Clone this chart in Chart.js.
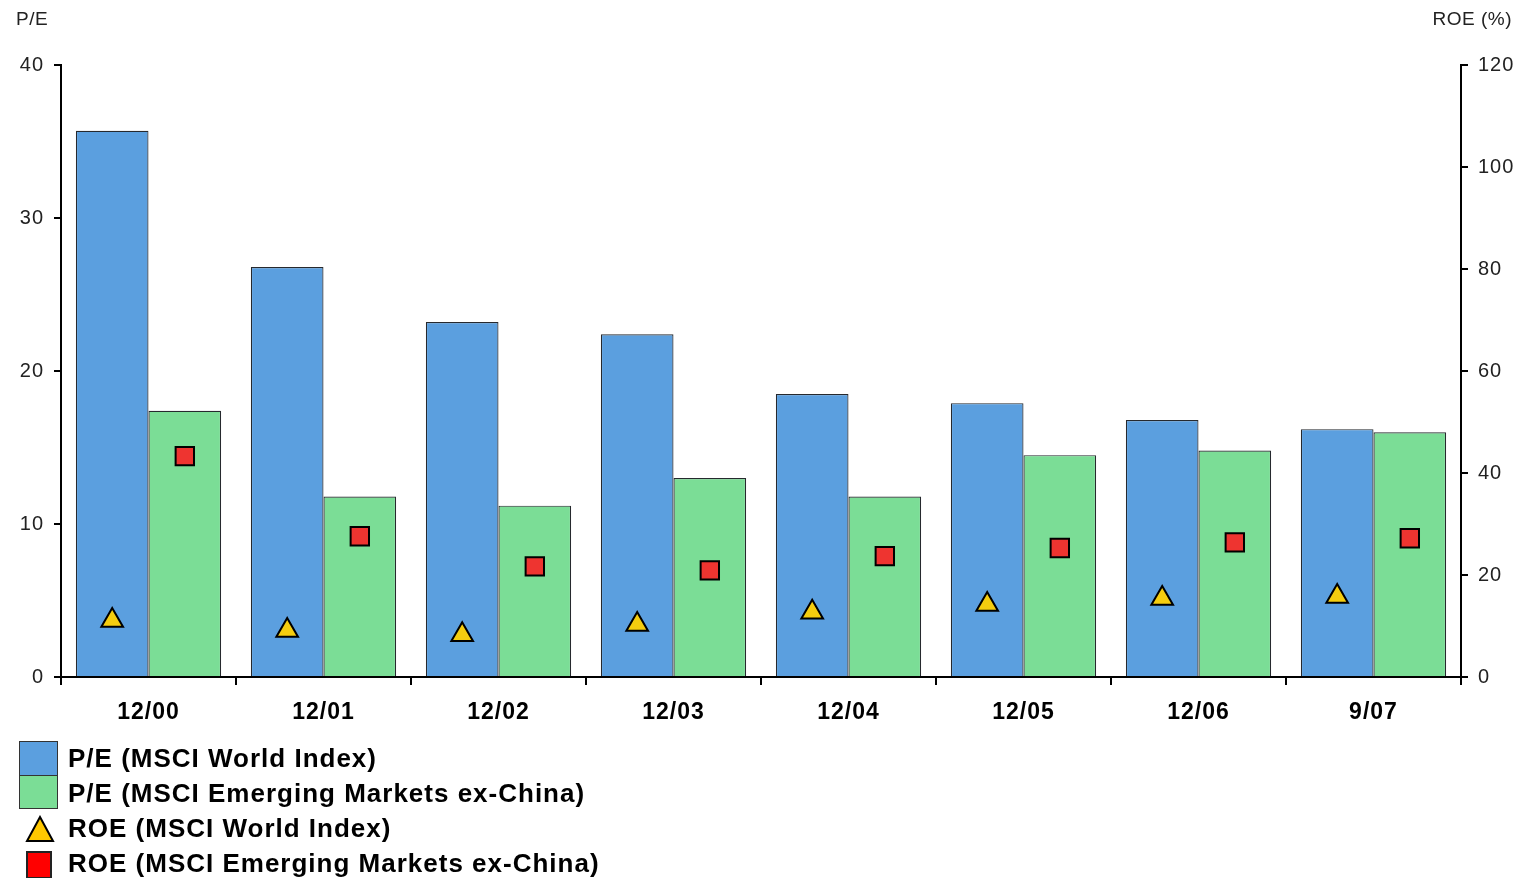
<!DOCTYPE html>
<html>
<head>
<meta charset="utf-8">
<script src="https://cdn.jsdelivr.net/npm/chart.js@4/dist/chart.umd.min.js"></script>
<style>
  html, body { margin: 0; padding: 0; background: #fff; }
  #wrap { position: relative; width: 1532px; height: 878px; font-family: "Liberation Sans", Arial, sans-serif; }
  #roe { position: absolute; left: 0; top: 0; }
  .axis-title { position: absolute; top: 8px; font-size: 19px; color: #222; letter-spacing: 0.5px; }
  #legend { position: absolute; left: 0; top: 741px; }
  .row { position: relative; height: 35px; }
  .row span { position: absolute; left: 68px; top: 0; line-height: 34px; font-size: 26px; font-weight: bold; letter-spacing: 1px; color: #000; white-space: nowrap; }
  .row .sw { position: absolute; }
</style>
</head>
<body>
<div id="wrap">
  <canvas id="roe" width="1532" height="878"></canvas>
  <div class="axis-title" style="left:16px">P/E</div>
  <div class="axis-title" style="right:20px">ROE (%)</div>
  <div id="legend"></div>
</div>
<script>
const periods = ['12/00', '12/01', '12/02', '12/03', '12/04', '12/05', '12/06', '9/07'];
const peWorld = [35.7, 26.8, 23.2, 22.4, 18.5, 17.9, 16.8, 16.2];
const peEmerging = [17.4, 11.8, 11.2, 13.0, 11.8, 14.5, 14.8, 16.0];
const roeWorld = [11.1, 9.1, 8.3, 10.3, 12.7, 14.2, 15.4, 15.8];
const roeEmerging = [43.3, 27.6, 21.7, 20.9, 23.7, 25.3, 26.4, 27.2];
const seriesNames = [
    'P/E (MSCI World Index)',
    'P/E (MSCI Emerging Markets ex-China)',
    'ROE (MSCI World Index)',
    'ROE (MSCI Emerging Markets ex-China)'
];
const peTicks = [0, 10, 20, 30, 40];
const roeTicks = [0, 20, 40, 60, 80, 100, 120];

const groupShare = 0.83;

// each ROE marker is drawn over the middle of its P/E bar
const markerOnBar = {
    id: 'markerOnBar',
    afterDatasetsUpdate(chart) {
        [[2, 0], [3, 1]].forEach(([m, b]) => {
            const bars = chart.getDatasetMeta(b).data;
            chart.getDatasetMeta(m).data.forEach((pt, i) => {
                if (bars[i]) pt.x = bars[i].x;
            });
        });
    },
    beforeDraw(chart) { chart.ctx.letterSpacing = '1px'; }
};

const axisGrid = { drawOnChartArea: false, drawTicks: true, color: '#000', lineWidth: 2 };

new Chart(document.getElementById('roe'), {
    type: 'bar',
    data: {
        labels: periods,
        datasets: [
            {
                label: seriesNames[0], data: peWorld, yAxisID: 'y', order: 2, stack: 'world',
                backgroundColor: '#5b9fdf', borderColor: '#26292e', borderWidth: 1.2,
                categoryPercentage: groupShare, barPercentage: 1.0
            },
            {
                label: seriesNames[1], data: peEmerging, yAxisID: 'y', order: 2, stack: 'emerging',
                backgroundColor: '#7bdd96', borderColor: '#26292e', borderWidth: 1.2,
                categoryPercentage: groupShare, barPercentage: 1.0
            },
            {
                type: 'line', label: seriesNames[2], data: roeWorld, grouped: false,
                yAxisID: 'y2', order: 1, showLine: false,
                pointStyle: 'triangle', pointRadius: 12.5, pointHoverRadius: 12.5,
                pointBackgroundColor: '#f5cd0f', pointBorderColor: '#000', pointBorderWidth: 2
            },
            {
                type: 'line', label: seriesNames[3], data: roeEmerging, grouped: false,
                yAxisID: 'y2', order: 1, showLine: false,
                pointStyle: 'rect', pointRadius: 13, pointHoverRadius: 13,
                pointBackgroundColor: '#ee3430', pointBorderColor: '#000', pointBorderWidth: 2
            }
        ]
    },
    options: {
        responsive: false,
        animation: false,
        layout: { padding: { top: 65, bottom: 0, left: 0, right: 0 } },
        plugins: { legend: { display: false }, tooltip: { enabled: false } },
        scales: {
            x: {
                type: 'category',
                offset: true,
                stacked: false,
                grid: { ...axisGrid, offset: true, tickLength: 8 },
                border: { display: true, color: '#000', width: 2 },
                ticks: { color: '#000', font: { family: 'Liberation Sans', size: 23, weight: 'bold' }, padding: 14, maxRotation: 0 },
                afterFit(scale) { scale.height = 201; }
            },
            y: {
                position: 'left', min: peTicks[0], max: peTicks[peTicks.length - 1],
                afterBuildTicks(scale) { scale.ticks = peTicks.map(v => ({ value: v })); },
                grid: { ...axisGrid, tickLength: 7 },
                border: { display: true, color: '#000', width: 2 },
                ticks: { color: '#222', font: { family: 'Liberation Sans', size: 20 }, padding: 10 },
                afterFit(scale) { scale.width = 61; }
            },
            y2: {
                position: 'right', min: roeTicks[0], max: roeTicks[roeTicks.length - 1],
                afterBuildTicks(scale) { scale.ticks = roeTicks.map(v => ({ value: v })); },
                grid: { ...axisGrid, tickLength: 7 },
                border: { display: true, color: '#000', width: 2 },
                ticks: { color: '#222', font: { family: 'Liberation Sans', size: 20 }, padding: 10 },
                afterFit(scale) { scale.width = 71; }
            }
        }
    },
    plugins: [markerOnBar]
});

// legend: one entry per line under the axis
const swatches = [
    '<div class="sw" style="left:19px;top:0;width:37px;height:33px;background:#5b9fdf;border:1px solid #333"></div>',
    '<div class="sw" style="left:19px;top:-1px;width:37px;height:32px;background:#7bdd96;border:1px solid #333"></div>',
    '<svg class="sw" style="left:25px;top:4px" width="30" height="28"><polygon points="15,2 28,26 2,26" fill="#ffc800" stroke="#000" stroke-width="2"/></svg>',
    '<div class="sw" style="left:26px;top:5px;width:22px;height:24px;background:#ff0000;border:2px solid #222"></div>'
];
document.getElementById('legend').innerHTML = seriesNames
    .map((name, i) => '<div class="row">' + swatches[i] + '<span>' + name + '</span></div>')
    .join('');
</script>
</body>
</html>
